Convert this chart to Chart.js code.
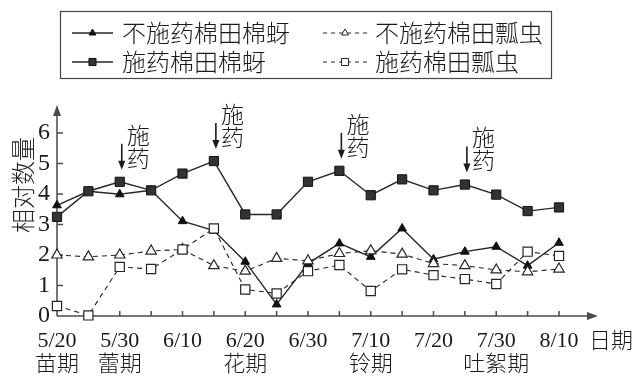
<!DOCTYPE html>
<html lang="zh">
<head>
  <meta charset="UTF-8" />
  <title>棉田棉蚜与瓢虫相对数量</title>
  <script src="https://cdn.jsdelivr.net/npm/chart.js"></script>
  <style>
    html, body { margin: 0; padding: 0; background: #fff; }
    canvas { display: block; }
  </style>
</head>
<body>
  <canvas id="chart" width="635" height="376"></canvas>

  <script>
    // dates every 5 days, only every other one is labelled
    const dates = ['5/20', '5/25', '5/30', '6/5', '6/10', '6/15', '6/20', '6/25', '6/30',
                   '7/5', '7/10', '7/15', '7/20', '7/25', '7/30', '8/5', '8/10'];
    const stages = ['苗期', '', '蕾期', '', '', '', '花期', '', '', '', '铃期', '', '', '', '吐絮期', '', ''];

    const aphidUntreated = [3.63, 4.09, 3.99, 4.12, 3.11, 2.80, 1.78, 0.38, 1.72, 2.38, 1.94, 2.87, 1.86, 2.11, 2.27, 1.65, 2.40];
    const aphidTreated   = [3.25, 4.09, 4.40, 4.12, 4.67, 5.08, 3.33, 3.33, 4.40, 4.76, 3.96, 4.48, 4.12, 4.31, 3.98, 3.44, 3.56];
    const ladyUntreated  = [2.00, 1.94, 2.00, 2.13, 2.18, 1.65, 1.47, 1.89, 1.81, 2.05, 2.14, 2.03, 1.72, 1.65, 1.51, 1.45, 1.54];
    const ladyTreated    = [0.33, 0.02, 1.61, 1.54, 2.18, 2.87, 0.87, 0.74, 1.47, 1.67, 0.82, 1.53, 1.34, 1.21, 1.05, 2.11, 1.97];

    const sprayIdx = [2, 5, 9, 13];   // 施药 dates
    const yTicks = [0, 1, 2, 3, 4, 5, 6];

    const serif = '"Liberation Serif", "Noto Sans CJK SC", serif';
    const cjk = '"Noto Sans CJK SC", sans-serif';
    const ink = '#262626';
    const axisColor = '#4a4a4a';

    // legend layout: [dataset index, column x, row y]
    const legendItems = [
      { ds: 3, x: 72, y: 33 },
      { ds: 2, x: 72, y: 62 },
      { ds: 1, x: 323, y: 33 },
      { ds: 0, x: 323, y: 62 }
    ];

    function tri(ctx, ax, ay, bx, by, cx, cy) {
      ctx.beginPath();
      ctx.moveTo(ax, ay);
      ctx.lineTo(bx, by);
      ctx.lineTo(cx, cy);
      ctx.closePath();
      ctx.fill();
    }

    const decor = {
      id: 'decor',
      beforeDatasetsDraw(chart) {
        const { ctx, scales: { x, y } } = chart;
        const x0 = x.getPixelForValue(0);
        const y0 = y.getPixelForValue(0);
        ctx.save();
        ctx.strokeStyle = axisColor;
        ctx.fillStyle = axisColor;
        ctx.lineWidth = 1.5;
        ctx.beginPath();
        ctx.moveTo(x0, y0);
        ctx.lineTo(x0, 112);
        ctx.moveTo(x0, y0);
        ctx.lineTo(590, y0);
        // inward ticks
        for (let i = 1; i < dates.length; i++) {
          const px = x.getPixelForValue(i);
          ctx.moveTo(px, y0);
          ctx.lineTo(px, y0 - 5);
        }
        yTicks.slice(1).forEach(v => {
          const py = y.getPixelForValue(v);
          ctx.moveTo(x0, py);
          ctx.lineTo(x0 + 6, py);
        });
        ctx.stroke();
        tri(ctx, x0, 105, x0 - 4, 116, x0 + 4, 116);
        tri(ctx, 598, y0, 587, y0 - 4, 587, y0 + 4);

        // y axis name, reads bottom to top
        ctx.fillStyle = '#222';
        ctx.font = `300 24px ${cjk}`;
        ctx.textAlign = 'center';
        ctx.textBaseline = 'middle';
        ctx.translate(23, 185);
        ctx.rotate(-Math.PI / 2);
        ctx.fillText('相对数量', 0, 0);
        ctx.restore();
      },
      afterDraw(chart) {
        const { ctx, scales: { x, y } } = chart;
        ctx.save();

        // x axis name
        ctx.fillStyle = '#1a1a1a';
        ctx.font = `300 22px ${cjk}`;
        ctx.textAlign = 'left';
        ctx.textBaseline = 'middle';
        ctx.fillText('日期', 589, 340);

        // spraying arrows
        sprayIdx.forEach(i => {
          const px = x.getPixelForValue(i) + 2;
          const tip = y.getPixelForValue(aphidTreated[i]) - 12;
          ctx.strokeStyle = '#1a1a1a';
          ctx.fillStyle = '#1a1a1a';
          ctx.lineWidth = 1.6;
          ctx.beginPath();
          ctx.moveTo(px, tip - 26);
          ctx.lineTo(px, tip - 6);
          ctx.stroke();
          tri(ctx, px, tip, px - 3.5, tip - 9, px + 3.5, tip - 9);
          ctx.font = `300 23px ${cjk}`;
          ctx.fillText('施', px + 5, tip - 35);
          ctx.fillText('药', px + 5, tip - 12);
        });

        // legend
        ctx.strokeStyle = '#444';
        ctx.lineWidth = 1.2;
        ctx.strokeRect(60.5, 11.5, 491, 67);
        legendItems.forEach(it => {
          const ds = chart.data.datasets[it.ds];
          const len = it.x < 200 ? 41 : 44;
          ctx.save();
          ctx.strokeStyle = ink;
          ctx.lineWidth = ds.borderDash ? 1 : 1.5;
          ctx.setLineDash(ds.borderDash ? [4, 4] : []);
          ctx.beginPath();
          ctx.moveTo(it.x, it.y);
          ctx.lineTo(it.x + len, it.y);
          ctx.stroke();
          ctx.setLineDash([]);
          ctx.fillStyle = ds.pointBackgroundColor;
          ctx.strokeStyle = ds.pointBorderColor;
          ctx.lineWidth = 1;
          Chart.helpers.drawPoint(ctx, {
            pointStyle: ds.pointStyle,
            radius: ds.pointStyle === 'rect' ? 5 : 4,
            borderWidth: 1,
            rotation: 0
          }, it.x + len / 2, it.y);
          ctx.restore();
          ctx.fillStyle = '#1a1a1a';
          ctx.font = `300 24px ${cjk}`;
          ctx.textAlign = 'left';
          ctx.textBaseline = 'middle';
          ctx.fillText(ds.label, it.x + (it.x < 200 ? 50 : 52), it.y);
        });
        ctx.restore();
      }
    };

    new Chart(document.getElementById('chart'), {
      type: 'line',
      data: {
        labels: dates,
        datasets: [
          {
            label: '施药棉田瓢虫',
            data: ladyTreated,
            borderColor: ink, borderWidth: 1.1, borderDash: [5, 4],
            pointStyle: 'rect', pointRadius: 6.5,
            pointBackgroundColor: '#fff', pointBorderColor: ink, pointBorderWidth: 1.2
          },
          {
            label: '不施药棉田瓢虫',
            data: ladyUntreated,
            borderColor: ink, borderWidth: 1.1, borderDash: [5, 4],
            pointStyle: 'triangle', pointRadius: 6,
            pointBackgroundColor: '#fff', pointBorderColor: ink, pointBorderWidth: 1.2
          },
          {
            label: '施药棉田棉蚜',
            data: aphidTreated,
            borderColor: ink, borderWidth: 1.4,
            pointStyle: 'rect', pointRadius: 6.5,
            pointBackgroundColor: '#333', pointBorderColor: '#111', pointBorderWidth: 1
          },
          {
            label: '不施药棉田棉蚜',
            data: aphidUntreated,
            borderColor: ink, borderWidth: 1.4,
            pointStyle: 'triangle', pointRadius: 5,
            pointBackgroundColor: '#111', pointBorderColor: '#111', pointBorderWidth: 1
          }
        ]
      },
      options: {
        responsive: false,
        animation: false,
        clip: false,
        layout: { padding: { left: 0, right: 76, top: 133, bottom: 0 } },
        plugins: {
          legend: { display: false },
          tooltip: { enabled: false }
        },
        scales: {
          x: {
            type: 'category',
            offset: false,
            grid: { display: false, drawTicks: false },
            border: { display: false },
            ticks: {
              autoSkip: false,
              maxRotation: 0,
              padding: 13,
              color: '#1a1a1a',
              font: { family: serif, size: 22, weight: 300, lineHeight: 1.1 },
              callback: (v, i) => i % 2 ? null : (stages[i] ? [dates[i], stages[i]] : dates[i])
            },
            afterFit: s => { s.height = 60; }
          },
          y: {
            min: 0,
            max: 6,
            grid: { display: false, drawTicks: false },
            border: { display: false },
            afterBuildTicks: s => { s.ticks = yTicks.map(v => ({ value: v })); },
            ticks: {
              autoSkip: false,
              padding: 7,
              color: '#1a1a1a',
              font: { family: serif, size: 24 }
            },
            afterFit: s => { s.width = 57; }
          }
        }
      },
      plugins: [decor]
    });
  </script>
</body>
</html>
